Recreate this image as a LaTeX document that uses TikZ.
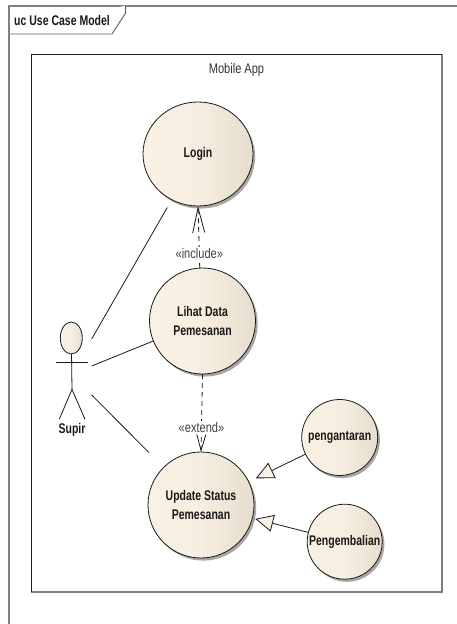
\documentclass[tikz,border=0pt]{standalone}
\usepackage{fontspec}
\setmainfont[FakeStretch=0.75]{Liberation Sans}
\newfontfamily\plainfam[FakeStretch=0.79]{Liberation Sans}
\usetikzlibrary{arrows.meta,shapes.geometric,shadows,shadings}
\definecolor{ucL}{HTML}{F9F1E4}
\definecolor{ucM}{HTML}{F6EEE0}
\definecolor{ucR}{HTML}{E6DDCE}
\definecolor{ink}{HTML}{1A1A1A}
\definecolor{frameGray}{HTML}{7F7F7F}
\tikzset{
  usecase/.style={ellipse,draw=ink,line width=0.8pt,inner sep=-12pt,outer sep=0pt,align=center,
    left color=ucL,right color=ucR,middle color=ucM,
    font=\fontsize{14}{19.5}\selectfont\bfseries,text=ink,
    drop shadow={shadow xshift=2.2pt,shadow yshift=-2.6pt,fill=black!35,opacity=1}},
  actorhead/.style={ellipse,draw=ink,line width=0.8pt,inner sep=0pt,outer sep=0pt,
    left color=ucL,right color=ucR,middle color=ucM,minimum width=22pt,minimum height=32pt},
  assoc/.style={draw=ink,line width=0.8pt},
  dep/.style={draw=ink,line width=0.8pt,dash pattern=on 5pt off 4pt},
  gen/.style={draw=ink,line width=0.8pt,-{Triangle[open,fill=ucL,length=18pt,width=17pt,line width=0.8pt]}},
  stereo/.style={fill=white,inner sep=1pt,text=black!75,font=\plainfam\fontsize{14}{16}\selectfont},
  strongtext/.style={font=\fontsize{14}{16}\selectfont\bfseries,text=ink},
  plaintext/.style={text=black!80,font=\plainfam\fontsize{14}{16}\selectfont},
}
\begin{document}
\begin{tikzpicture}[x=1pt,y=-1pt]
\useasboundingbox (0,0) rectangle (457,624);
\fill[white] (0,0) rectangle (457,624);
% diagram frame
\draw[frameGray,line width=2pt] (9,624) -- (9,5.5) -- (457,5.5);
% frame label tab
\draw[ink!70,line width=0.9pt,fill=white] (9,34) -- (112,34) -- (125.6,13) -- (125.6,5.5);
\node[strongtext,anchor=west,inner sep=0pt] (frametitle) at (14,20) {uc Use Case Model};
% system boundary
\draw[frameGray,line width=1.2pt] (442,54) -- (442,592) -- (31,592);
\draw[ink,line width=1pt] (31,592) -- (31,54) -- (442,54);
\node[plaintext,inner sep=0pt] (boundarytitle) at (236.5,70) {Mobile App};
% use cases
\node[usecase,minimum width=110pt,minimum height=104pt] (login) at (198,154) {Login};
\node[usecase,minimum width=106pt,minimum height=106pt] (lihat) at (202.5,321) {Lihat Data\\Pemesanan};
\node[usecase,minimum width=106pt,minimum height=106pt] (update) at (201,505) {Update Status\\Pemesanan};
\node[usecase,minimum width=76pt,minimum height=76pt] (antar) at (339.7,437.5) {pengantaran};
\node[usecase,minimum width=75pt,minimum height=75pt] (kembali) at (344.7,541.7) {Pengembalian};
% actor
\node[actorhead] (head) at (71.3,338) {};
\coordinate (armL) at (56,362.7);
\coordinate (armR) at (88.3,362.7);
\coordinate (hip) at (72,389.3);
\coordinate (footL) at (59.3,419.3);
\coordinate (footR) at (85,419.3);
\draw[assoc] (armL) -- (armR);
\draw[assoc] (head) -- (hip);
\draw[assoc] (footL) -- (hip) -- (footR);
\node[strongtext,inner sep=0pt] (supir) at (72,429.5) {Supir};
% associations
\coordinate (actorA) at (91.7,339);
\coordinate (actorB) at (91.7,366);
\coordinate (actorC) at (91.7,395);
\draw[assoc,shorten >=9pt] (actorA) -- (login);
\draw[assoc] (actorB) -- (lihat);
\draw[assoc,shorten >=21pt] (actorC) -- (update);
% dependencies
\draw[dep,-{Straight Barb[length=25pt,width=12pt,line width=0.8pt]}] (lihat.93.5) -- (login.south)
  node[stereo,pos=0.24] (inc) {«include»};
\draw[dep,-{Straight Barb[length=16pt,width=9pt,line width=0.8pt]}] (lihat.south) -- (update.north)
  node[stereo,pos=0.68] (ext) {«extend»};
% generalisations
\draw[gen,shorten >=8pt] (antar) -- (update);
\draw[gen,shorten >=3pt] (kembali) -- (update);
\end{tikzpicture}
\end{document}
